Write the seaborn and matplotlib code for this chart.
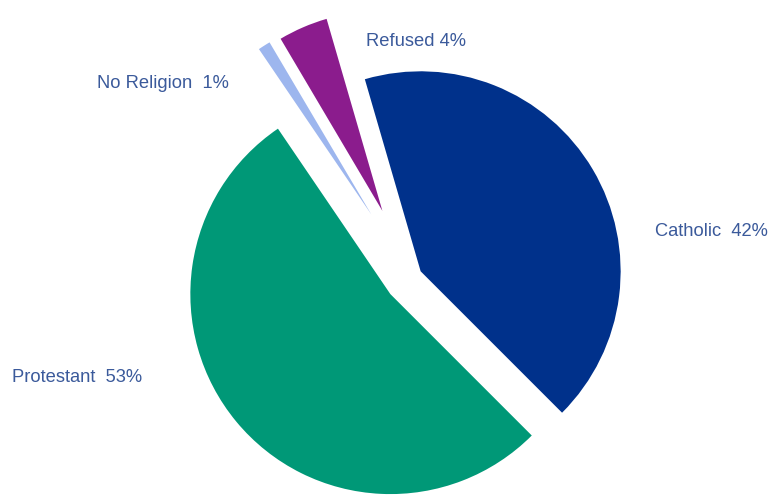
import matplotlib
matplotlib.use("Agg")
import matplotlib.pyplot as plt
import seaborn as sns

# Religious affiliation shares (%)
categories = ["Catholic", "Refused", "No Religion", "Protestant"]
shares = [42, 4, 1, 53]
label_templates = ["{}  {}%", "{} {}%", "{}  {}%", "{}  {}%"]

# Styling
colors = ["#00318b", "#8b1c8d", "#9db6ee", "#009877"]
explode = [0.056, 0.36, 0.37, 0.134]
label_pos = [(1.22, 0.23), (-0.225, 1.18), (-1.57, 0.965), (-1.995, -0.50)]
text_color = "#3b5a9b"

sns.set_theme(style="white")
plt.rcParams["font.family"] = ["Liberation Sans", "DejaVu Sans"]

fig = plt.figure(figsize=(7.73, 4.96), dpi=100)
ax = fig.add_axes([0, 0, 1, 1])

ax.pie(
    shares,
    colors=colors,
    explode=explode,
    startangle=-45,
    counterclock=True,
    radius=1.0,
    wedgeprops=dict(linewidth=0, antialiased=True),
)

for name, val, tpl, (x, y) in zip(categories, shares, label_templates, label_pos):
    ax.text(x, y, tpl.format(name, val), ha="left", va="center",
            fontsize=13.2, color=text_color)

ax.set_xlim(-411 / 200, (773 - 411) / 200)
ax.set_ylim(-(496 - 277) / 200, 277 / 200)
ax.set_aspect("equal")
ax.axis("off")

fig.savefig("out.png", dpi=100, facecolor="white")
